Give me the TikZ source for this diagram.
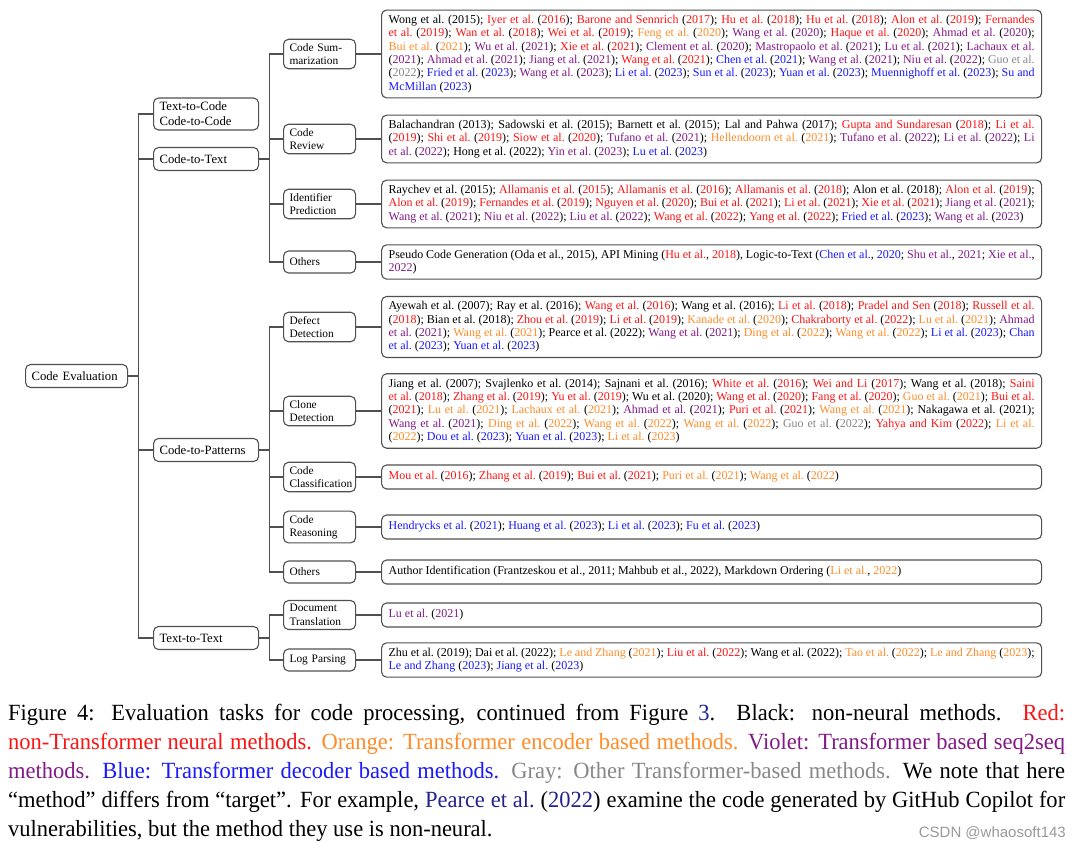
\documentclass[tikz,border=0pt]{standalone}
\usepackage{fontspec}
\setmainfont{Liberation Serif}
\newfontfamily\capfont{Liberation Serif}[FakeStretch=0.97, Ligatures=TeX]
\newfontfamily\marksans{Liberation Sans}
\usetikzlibrary{positioning}

\definecolor{nnred}{RGB}{250,20,20}
\definecolor{encorange}{RGB}{255,140,40}
\definecolor{seqviolet}{RGB}{130,25,135}
\definecolor{decblue}{RGB}{25,25,250}
\definecolor{othgray}{RGB}{135,135,135}
\definecolor{linkblue}{RGB}{35,35,140}
\definecolor{treeline}{RGB}{80,80,80}

% one citation: colour, authors, year
\newcommand{\cit}[3]{\textcolor{#1}{#2}\ (\textcolor{#1}{#3})}
% same, with the line broken before the year
\newcommand{\citb}[3]{\textcolor{#1}{#2}\linebreak(\textcolor{#1}{#3})}
\newcommand{\cK}[2]{#1\ (#2)}
\newcommand{\cR}[2]{\cit{nnred}{#1}{#2}}
\newcommand{\cO}[2]{\cit{encorange}{#1}{#2}}
\newcommand{\cV}[2]{\cit{seqviolet}{#1}{#2}}
\newcommand{\cB}[2]{\cit{decblue}{#1}{#2}}
\newcommand{\cG}[2]{\cit{othgray}{#1}{#2}}
% parenthetical form
\newcommand{\pcit}[3]{\textcolor{#1}{#2}, \textcolor{#1}{#3}}

\begin{document}
\begin{tikzpicture}[
    x=1pt, y=-1pt,
    box/.style={rectangle, draw=treeline, line width=1.1pt, rounded corners=5pt,
                inner xsep=6pt, inner ysep=4pt, align=left},
    rootbox/.style={box, text width=90pt, minimum height=23pt,
                    font=\fontsize{12.7}{15}\selectfont},
    groupbox/.style={box, text width=93pt, minimum height=23pt,
                     font=\fontsize{12.7}{15}\selectfont},
    taskbox/.style={box, text width=60pt, minimum height=22pt,
                    font=\fontsize{11.4}{13.4}\selectfont},
    litbox/.style={box, text width=646pt, inner xsep=7pt, minimum height=24pt, inner ysep=5pt,
                   align=justify, font=\fontsize{12}{13.4}\selectfont},
    edge/.style={draw=treeline, line width=1.1pt}
]
    \useasboundingbox (0,0) rectangle (1080,845);

    \node[rootbox, anchor=west] (root) at (25,376) {Code Evaluation};

    \node[groupbox, anchor=west] (txtcode) at (153,114) {Text-to-Code\\Code-to-Code};
    \node[groupbox, anchor=west] (codetxt) at (153,159) {Code-to-Text};
    \node[groupbox, anchor=west] (codepat) at (153,450) {Code-to-Patterns};
    \node[groupbox, anchor=west] (txttxt) at (153,638) {Text-to-Text};

    \node[taskbox, anchor=west] (summ) at (283,54) {Code Sum-\\marization};
    \node[taskbox, anchor=west] (review) at (283,139) {Code\\Review};
    \node[taskbox, anchor=west] (ident) at (283,204) {Identifier\\Prediction};
    \node[taskbox, anchor=west] (othtxt) at (283,262) {Others};
    \node[taskbox, anchor=west] (defect) at (283,327) {Defect\\Detection};
    \node[taskbox, anchor=west] (clone) at (283,411) {Clone\\Detection};
    \node[taskbox, anchor=west] (classif) at (283,477) {Code\\Classification};
    \node[taskbox, anchor=west] (reason) at (283,527) {Code\\Reasoning};
    \node[taskbox, anchor=west] (othpat) at (283,572) {Others};
    \node[taskbox, anchor=west] (doctrans) at (283,615) {Document\\Translation};
    \node[taskbox, anchor=west] (logparse) at (283,660) {Log Parsing};

    \node[litbox, right=25pt of summ] (litsumm) {\cK{Wong et al.}{2015}; \cR{Iyer et al.}{2016}; \cR{Barone and Sennrich}{2017}; \cR{Hu et al.}{2018}; \cR{Hu et al.}{2018}; \cR{Alon et al.}{2019}; \cR{Fernandes\linebreak et al.}{2019}; \cR{Wan et al.}{2018}; \cR{Wei et al.}{2019}; \cO{Feng et al.}{2020}; \cV{Wang et al.}{2020}; \cR{Haque et al.}{2020}; \cV{Ahmad et al.}{2020};\linebreak \cO{Bui et al.}{2021}; \cV{Wu et al.}{2021}; \cR{Xie et al.}{2021}; \cV{Clement et al.}{2020}; \cV{Mastropaolo et al.}{2021}; \cV{Lu et al.}{2021}; \citb{seqviolet}{Lachaux et al.}{2021}; \cV{Ahmad et al.}{2021}; \cV{Jiang et al.}{2021}; \cR{Wang et al.}{2021}; \cB{Chen et al.}{2021}; \cV{Wang et al.}{2021}; \cV{Niu et al.}{2022}; \citb{othgray}{Guo et al.}{2022}; \cB{Fried et al.}{2023}; \cV{Wang et al.}{2023}; \cB{Li et al.}{2023}; \cB{Sun et al.}{2023}; \cB{Yuan et al.}{2023}; \cB{Muennighoff et al.}{2023}; \cB{Su and\linebreak McMillan}{2023}};
    \node[litbox, right=25pt of review] (litreview) {\cK{Balachandran}{2013}; \cK{Sadowski et al.}{2015}; \cK{Barnett et al.}{2015}; \cK{Lal and Pahwa}{2017}; \cR{Gupta and Sundaresan}{2018}; \citb{nnred}{Li et al.}{2019}; \cR{Shi et al.}{2019}; \cR{Siow et al.}{2020}; \cV{Tufano et al.}{2021}; \cO{Hellendoorn et al.}{2021}; \cV{Tufano et al.}{2022}; \cV{Li et al.}{2022}; \cV{Li\linebreak et al.}{2022}; \cK{Hong et al.}{2022}; \cV{Yin et al.}{2023}; \cB{Lu et al.}{2023}};
    \node[litbox, right=25pt of ident] (litident) {\cK{Raychev et al.}{2015}; \cR{Allamanis et al.}{2015}; \cR{Allamanis et al.}{2016}; \cR{Allamanis et al.}{2018}; \cK{Alon et al.}{2018}; \cR{Alon et al.}{2019};\linebreak \cR{Alon et al.}{2019}; \cR{Fernandes et al.}{2019}; \cR{Nguyen et al.}{2020}; \cR{Bui et al.}{2021}; \cR{Li et al.}{2021}; \cR{Xie et al.}{2021}; \cV{Jiang et al.}{2021};\linebreak \cV{Wang et al.}{2021}; \cV{Niu et al.}{2022}; \cV{Liu et al.}{2022}; \cR{Wang et al.}{2022}; \cR{Yang et al.}{2022}; \cB{Fried et al.}{2023}; \cV{Wang et al.}{2023}};
    \node[litbox, right=25pt of othtxt] (litothtxt) {Pseudo Code Generation (Oda et al., 2015), API Mining (\pcit{nnred}{Hu et al.}{2018}), Logic-to-Text (\pcit{decblue}{Chen et al.}{2020}; \pcit{seqviolet}{Shu et al.}{2021}; \textcolor{seqviolet}{Xie et al.},\linebreak\textcolor{seqviolet}{2022})};
    \node[litbox, right=25pt of defect] (litdefect) {\cK{Ayewah et al.}{2007}; \cK{Ray et al.}{2016}; \cR{Wang et al.}{2016}; \cK{Wang et al.}{2016}; \cR{Li et al.}{2018}; \cR{Pradel and Sen}{2018}; \citb{nnred}{Russell et al.}{2018}; \cK{Bian et al.}{2018}; \cR{Zhou et al.}{2019}; \cR{Li et al.}{2019}; \cO{Kanade et al.}{2020}; \cR{Chakraborty et al.}{2022}; \cO{Lu et al.}{2021}; \cV{Ahmad\linebreak et al.}{2021}; \cO{Wang et al.}{2021}; \cK{Pearce et al.}{2022}; \cV{Wang et al.}{2021}; \cO{Ding et al.}{2022}; \cO{Wang et al.}{2022}; \cB{Li et al.}{2023}; \cB{Chan\linebreak et al.}{2023}; \cB{Yuan et al.}{2023}};
    \node[litbox, right=25pt of clone] (litclone) {\cK{Jiang et al.}{2007}; \cK{Svajlenko et al.}{2014}; \cK{Sajnani et al.}{2016}; \cR{White et al.}{2016}; \cR{Wei and Li}{2017}; \cK{Wang et al.}{2018}; \cR{Saini\linebreak et al.}{2018}; \cR{Zhang et al.}{2019}; \cR{Yu et al.}{2019}; \cK{Wu et al.}{2020}; \cR{Wang et al.}{2020}; \cR{Fang et al.}{2020}; \cO{Guo et al.}{2021}; \citb{nnred}{Bui et al.}{2021}; \cO{Lu et al.}{2021}; \cO{Lachaux et al.}{2021}; \cV{Ahmad et al.}{2021}; \cR{Puri et al.}{2021}; \cO{Wang et al.}{2021}; \cK{Nakagawa et al.}{2021};\linebreak \cV{Wang et al.}{2021}; \cO{Ding et al.}{2022}; \cO{Wang et al.}{2022}; \cO{Wang et al.}{2022}; \cG{Guo et al.}{2022}; \cR{Yahya and Kim}{2022}; \citb{encorange}{Li et al.}{2022}; \cB{Dou et al.}{2023}; \cB{Yuan et al.}{2023}; \cO{Li et al.}{2023}};
    \node[litbox, right=25pt of classif] (litclassif) {\cR{Mou et al.}{2016}; \cR{Zhang et al.}{2019}; \cR{Bui et al.}{2021}; \cO{Puri et al.}{2021}; \cO{Wang et al.}{2022}};
    \node[litbox, right=25pt of reason] (litreason) {\cB{Hendrycks et al.}{2021}; \cB{Huang et al.}{2023}; \cB{Li et al.}{2023}; \cB{Fu et al.}{2023}};
    \node[litbox, right=25pt of othpat] (litothpat) {Author Identification (Frantzeskou et al., 2011; Mahbub et al., 2022), Markdown Ordering (\pcit{encorange}{Li et al.}{2022})};
    \node[litbox, right=25pt of doctrans] (litdoctrans) {\cV{Lu et al.}{2021}};
    \node[litbox, right=25pt of logparse] (litlogparse) {\cK{Zhu et al.}{2019}; \cK{Dai et al.}{2022}; \cO{Le and Zhang}{2021}; \cR{Liu et al.}{2022}; \cK{Wang et al.}{2022}; \cO{Tao et al.}{2022}; \cO{Le and Zhang}{2023};\linebreak \cB{Le and Zhang}{2023}; \cB{Jiang et al.}{2023}};

    \foreach \a/\b in {root/txtcode, root/codetxt, root/codepat, root/txttxt,
                       codetxt/summ, codetxt/review, codetxt/ident, codetxt/othtxt,
                       codepat/defect, codepat/clone, codepat/classif, codepat/reason, codepat/othpat,
                       txttxt/doctrans, txttxt/logparse}
        \draw[edge] (\a.east) -- ++(10.5,0) |- (\b.west);
    \foreach \a in {summ, review, ident, othtxt, defect, clone, classif, reason, othpat, doctrans, logparse}
        \draw[edge] (\a.east) -- (lit\a.west);

    \node[anchor=north west, inner sep=0pt, text width=1057pt, align=justify,
          font=\capfont\fontsize{23.2}{29}\selectfont] (caption) at (8,704)
        {Figure 4: Evaluation tasks for code processing, continued from Figure \textcolor{linkblue}{3}. Black: non-neural methods. \textcolor{nnred}{Red:\linebreak non-Transformer neural methods.} \textcolor{encorange}{Orange: Transformer encoder based methods.} \textcolor{seqviolet}{Violet: Transformer based seq2seq\linebreak methods.} \textcolor{decblue}{Blue: Transformer decoder based methods.} \textcolor{othgray}{Gray: Other Transformer-based methods.} We note that here\linebreak ``method'' differs from ``target''. For example, \textcolor{linkblue}{Pearce et al.}\ (\textcolor{linkblue}{2022}) examine the code generated by GitHub Copilot for\linebreak vulnerabilities, but the method they use is non-neural.};
    \node[anchor=base east, inner sep=0pt, text=black!40,
          font=\marksans\fontsize{15}{18}\selectfont] (mark) at (1066,837) {CSDN @whaosoft143};
\end{tikzpicture}
\end{document}
